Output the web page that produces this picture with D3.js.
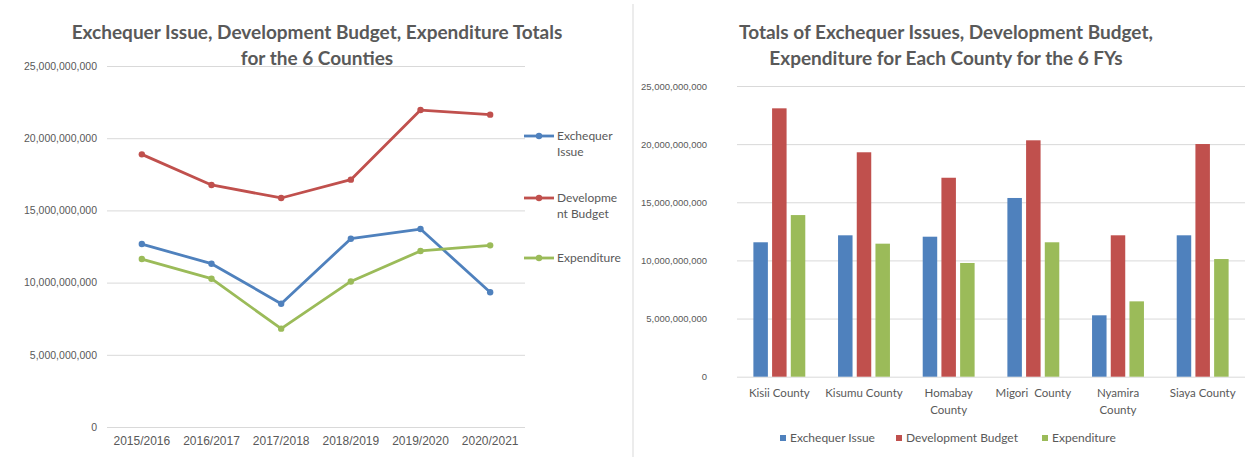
<!DOCTYPE html>
<html>
<head>
<meta charset="utf-8">
<script src="https://cdn.jsdelivr.net/npm/d3@7"></script>
<style>
  html, body { margin: 0; padding: 0; background: #fff; }
  svg { display: block; font-family: Lato, "Open Sans", sans-serif; }
  .tick text { fill: #595959; }
</style>
</head>
<body>
<svg id="chart" width="1247" height="459"></svg>
<script>
// ---- Data ----
const years = ["2015/2016", "2016/2017", "2017/2018", "2018/2019", "2019/2020", "2020/2021"];
const exchequerByYear = [12.67e9, 11.31e9, 8.54e9, 13.04e9, 13.71e9, 9.33e9];
const budgetByYear    = [18.88e9, 16.76e9, 15.86e9, 17.13e9, 21.95e9, 21.63e9];
const spendByYear     = [11.63e9, 10.27e9, 6.81e9, 10.08e9, 12.19e9, 12.58e9];

const counties = ["Kisii County", "Kisumu County", "Homabay County", "Migori County", "Nyamira County", "Siaya County"];
const countyLabelLines = [["Kisii County"], ["Kisumu County"], ["Homabay", "County"], ["Migori  County"], ["Nyamira", "County"], ["Siaya County"]];
const exchequerByCounty = [11.56e9, 12.16e9, 12.04e9, 15.37e9, 5.28e9, 12.16e9];
const budgetByCounty    = [23.08e9, 19.30e9, 17.11e9, 20.33e9, 12.16e9, 20.01e9];
const spendByCounty     = [13.90e9, 11.44e9, 9.78e9, 11.56e9, 6.48e9, 10.12e9];

const seriesNames = ["Exchequer Issue", "Development Budget", "Expenditure"];
const lineLegendLines = [["Exchequer", "Issue"], ["Developme", "nt Budget"], ["Expenditure"]];
const yTicks = [0, 5e9, 10e9, 15e9, 20e9, 25e9];

const colors = ["#4F81BD", "#C0504D", "#9BBB59"];
const grid = "#D9D9D9";
const textGrey = "#595959";
const fmt = d3.format(",");

const svg = d3.select("#chart");

// divider between the two panels
svg.append("line").attr("x1", 633).attr("x2", 633).attr("y1", 4).attr("y2", 457)
  .attr("stroke", "#D9D9D9").attr("stroke-width", 1);

// ---- Left panel: line chart of yearly totals ----
{
  const x = d3.scaleBand().domain(years).range([107, 525]);
  const y = d3.scaleLinear().domain([0, 25e9]).range([427, 66]);

  const g = svg.append("g");
  g.append("g").attr("transform", "translate(107,0)")
    .call(d3.axisLeft(y).tickValues(yTicks).tickFormat(fmt).tickSize(-418).tickPadding(10))
    .call(a => a.select(".domain").remove())
    .call(a => a.selectAll(".tick line").attr("stroke", grid))
    .call(a => a.selectAll(".tick text").attr("font-size", 10.5));

  g.append("g").attr("transform", "translate(0,427)")
    .call(d3.axisBottom(x).tickSize(0).tickPadding(9))
    .call(a => a.select(".domain").remove())
    .call(a => a.selectAll(".tick text").attr("font-size", 12));

  const seriesData = [exchequerByYear, budgetByYear, spendByYear];
  const line = d3.line().x((d, i) => x(years[i]) + x.bandwidth() / 2).y(d => y(d));
  seriesData.forEach((vals, s) => {
    g.append("path").datum(vals).attr("d", line)
      .attr("fill", "none").attr("stroke", colors[s]).attr("stroke-width", 2.8)
      .attr("stroke-linejoin", "round").attr("stroke-linecap", "round");
    g.selectAll(null).data(vals).join("circle")
      .attr("cx", (d, i) => x(years[i]) + x.bandwidth() / 2)
      .attr("cy", d => y(d)).attr("r", 3.2).attr("fill", colors[s]);
  });

  // legend
  const legY = [136, 198, 258];
  lineLegendLines.forEach((lines, s) => {
    const lg = g.append("g").attr("transform", `translate(524,${legY[s]})`);
    lg.append("line").attr("x1", 0).attr("x2", 30).attr("stroke", colors[s]).attr("stroke-width", 2.8);
    lg.append("circle").attr("cx", 15).attr("r", 3.2).attr("fill", colors[s]);
    lines.forEach((t, k) => {
      lg.append("text").attr("x", 33).attr("y", k * 16).attr("dy", "0.35em")
        .attr("font-size", 12).attr("fill", textGrey).text(t);
    });
  });

  const title = ["Exchequer Issue, Development Budget, Expenditure Totals", "for the 6 Counties"];
  title.forEach((t, k) => {
    g.append("text").attr("x", 317).attr("y", 32 + k * 26).attr("dy", "0.35em")
      .attr("text-anchor", "middle").attr("font-size", 19).attr("font-weight", "bold")
      .attr("fill", textGrey).text(t);
  });
}

// ---- Right panel: grouped bars per county ----
{
  const x0 = d3.scaleBand().domain(counties).range([737, 1245]).paddingInner(0.387).paddingOuter(0.1935);
  const x1 = d3.scaleBand().domain(seriesNames).range([0, x0.bandwidth()]).paddingInner(0.225);
  const y = d3.scaleLinear().domain([0, 25e9]).range([376.7, 86]);

  const g = svg.append("g");
  g.append("g").attr("transform", "translate(737,0)")
    .call(d3.axisLeft(y).tickValues(yTicks).tickFormat(fmt).tickSize(-508).tickPadding(30))
    .call(a => a.select(".domain").remove())
    .call(a => a.selectAll(".tick line").attr("stroke", grid))
    .call(a => a.selectAll(".tick text").attr("font-size", 9.5));

  const seriesData = [exchequerByCounty, budgetByCounty, spendByCounty];
  const rows = counties.map((c, i) => seriesNames.map((s, k) => ({ county: c, series: s, k, v: seriesData[k][i] })));
  g.selectAll("g.grp").data(rows).join("g").attr("class", "grp")
    .attr("transform", (d, i) => `translate(${x0(counties[i])},0)`)
    .selectAll("rect").data(d => d).join("rect")
    .attr("x", d => x1(d.series)).attr("width", x1.bandwidth())
    .attr("y", d => y(d.v)).attr("height", d => y(0) - y(d.v))
    .attr("fill", d => colors[d.k]);

  // category labels (some wrap onto two lines)
  countyLabelLines.forEach((lines, i) => {
    lines.forEach((t, k) => {
      g.append("text").attr("x", x0(counties[i]) + x0.bandwidth() / 2).attr("y", 393 + k * 17)
        .attr("dy", "0.35em").attr("text-anchor", "middle").attr("font-size", 11.5)
        .attr("fill", textGrey).style("white-space", "pre").text(t);
    });
  });

  // legend
  const legX = [780, 896, 1042];
  seriesNames.forEach((s, k) => {
    const lg = g.append("g").attr("transform", `translate(${legX[k]},438)`);
    lg.append("rect").attr("x", 0).attr("y", -3).attr("width", 6).attr("height", 6).attr("fill", colors[k]);
    lg.append("text").attr("x", 10).attr("dy", "0.35em").attr("font-size", 12)
      .attr("fill", textGrey).text(s);
  });

  const title = ["Totals of Exchequer Issues, Development Budget,", "Expenditure for Each County for the 6 FYs"];
  title.forEach((t, k) => {
    g.append("text").attr("x", 946).attr("y", 32 + k * 26).attr("dy", "0.35em")
      .attr("text-anchor", "middle").attr("font-size", 19).attr("font-weight", "bold")
      .attr("fill", textGrey).text(t);
  });
}
</script>
</body>
</html>
